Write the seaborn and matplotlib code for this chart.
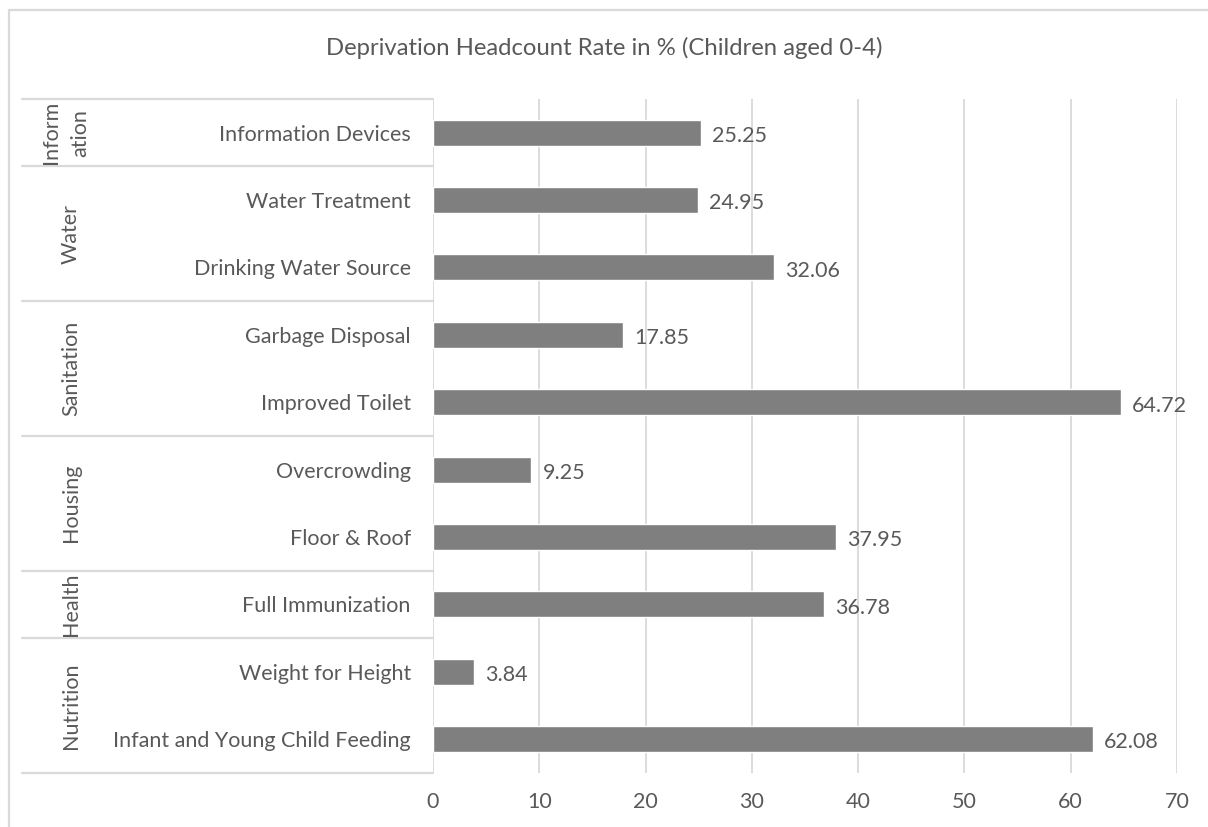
import matplotlib
matplotlib.use("Agg")
import matplotlib.pyplot as plt
from matplotlib.lines import Line2D
from matplotlib.transforms import blended_transform_factory
import seaborn as sns
import pandas as pd

# Indicators, top to bottom
categories = [
    "Information Devices",
    "Water Treatment",
    "Drinking Water Source",
    "Garbage Disposal",
    "Improved Toilet",
    "Overcrowding",
    "Floor & Roof",
    "Full Immunization",
    "Weight for Height",
    "Infant and Young Child Feeding",
]
values = [25.25, 24.95, 32.06, 17.85, 64.72, 9.25, 37.95, 36.78, 3.84, 62.08]

# Dimension groups (top to bottom) and how many indicators each holds
group_labels = ["Inform\nation", "Water", "Sanitation", "Housing", "Health", "Nutrition"]
group_sizes = [1, 2, 2, 2, 1, 2]

x_ticks = [0, 10, 20, 30, 40, 50, 60, 70]
title = "Deprivation Headcount Rate in % (Children aged 0-4)"

TEXT = "#595959"
GRID = "#d9d9d9"
BAR = "#7f7f7f"
FS = 15.5

sns.set_theme(style="white")
plt.rcParams["font.family"] = ["Lato", "DejaVu Sans"]

W, H = 1208, 827
fig = plt.figure(figsize=(W / 100, H / 100), dpi=100)
ax = fig.add_axes([433 / W, 1 - 772.7 / H, (1177 - 433) / W, (772.7 - 99) / H])

df = pd.DataFrame({"indicator": categories, "rate": values})
sns.barplot(data=df, x="rate", y="indicator", orient="h", color=BAR,
            saturation=1, width=0.385, ax=ax)

ax.set_xlim(0, 70)
ax.set_ylim(len(categories) - 0.5, -0.5)
ax.set_xticks(x_ticks)
ax.set_xticklabels([str(t) for t in x_ticks])
ax.set_xlabel("")
ax.set_ylabel("")
ax.grid(axis="x", color=GRID, linewidth=1.3)
ax.grid(axis="y", visible=False)
ax.set_axisbelow(True)
for s in ax.spines.values():
    s.set_visible(False)
ax.tick_params(axis="both", length=0, colors=TEXT, labelsize=FS)
ax.tick_params(axis="x", pad=14)
ax.tick_params(axis="y", pad=16)
for t in ax.get_yticklabels():
    t.set_va("center_baseline")

# Value labels to the right of each bar
for i, v in enumerate(values):
    ax.annotate(f"{v:.2f}", (v, i), xytext=(8, -1), textcoords="offset points",
                ha="left", va="center_baseline", color=TEXT, fontsize=FS)

# Group separators and rotated group names at the left
trans = blended_transform_factory(fig.transFigure, ax.transData)
x_sep = 22 / W
edges = [-0.5]
for n in group_sizes:
    edges.append(edges[-1] + n)
for y in edges:
    ax.add_line(Line2D([x_sep, 433 / W], [y, y], transform=trans, color=GRID,
                       linewidth=1.6, clip_on=False))
for label, lo, hi in zip(group_labels, edges[:-1], edges[1:]):
    ax.text(77 / W, (lo + hi) / 2, label, transform=trans, rotation=90,
            rotation_mode="anchor", ha="center", va="baseline",
            color=TEXT, fontsize=FS, linespacing=1.55)

# Title
fig.text(0.5, 1 - 48 / H, title, ha="center", va="center", color=TEXT, fontsize=17.2)

# Chart frame (top and left edges)
fig.add_artist(Line2D([9 / W, 9 / W], [0, 1 - 10 / H], transform=fig.transFigure,
                      color=GRID, linewidth=1.6))
fig.add_artist(Line2D([9 / W, 1], [1 - 10 / H, 1 - 10 / H], transform=fig.transFigure,
                      color=GRID, linewidth=1.6))

fig.savefig("out.png", dpi=100, facecolor="white")
